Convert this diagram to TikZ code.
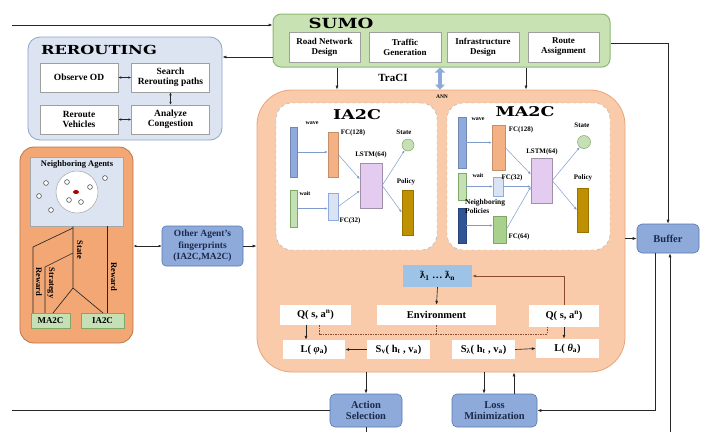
\documentclass[tikz,border=0pt]{standalone}
\usepackage{fontspec}
\setmainfont{Liberation Serif}
\newfontfamily\titlefont[FakeStretch=1.3]{DejaVu Serif}
\usetikzlibrary{calc,positioning,arrows.meta}

\definecolor{sumoF}{HTML}{C9E2B3}
\definecolor{sumoD}{HTML}{8DB872}
\definecolor{rrF}{HTML}{DCE4F2}
\definecolor{rrD}{HTML}{8FA3C8}
\definecolor{annF}{HTML}{F9CBAA}
\definecolor{annD}{HTML}{E8A47C}
\definecolor{nbrF}{HTML}{F3A774}
\definecolor{nbrD}{HTML}{B8764A}
\definecolor{blkF}{HTML}{8EAADB}
\definecolor{blkD}{HTML}{5A78B0}
\definecolor{navy}{HTML}{1C2A4A}
\definecolor{waveC}{HTML}{8FAADC}
\definecolor{fcO}{HTML}{F4B183}
\definecolor{waitC}{HTML}{C5E0B4}
\definecolor{fcB}{HTML}{DAE3F3}
\definecolor{lstmC}{HTML}{E4CCF0}
\definecolor{polC}{HTML}{BF9000}
\definecolor{npC}{HTML}{2F5597}
\definecolor{fcG}{HTML}{A9D18E}
\definecolor{lamC}{HTML}{9DC3E6}
\definecolor{nnA}{HTML}{7F9CCC}
\definecolor{brn}{HTML}{8B4A2B}
\definecolor{grnD}{HTML}{7FA866}

\begin{document}
\begin{tikzpicture}[x=1bp, y=-1bp, font=\bfseries,
  arr/.style={-{Latex[length=4bp,width=3bp]}, line width=.65bp, draw=black!85},
  darr/.style={{Latex[length=3bp,width=2.6bp]}-{Latex[length=3bp,width=2.6bp]}, line width=.65bp, draw=black!85},
  nnarr/.style={-{Latex[length=3bp,width=2.4bp]}, line width=.5bp, draw=nnA},
  nline/.style={line width=.65bp, draw=black!85},
  ttl/.style={inner sep=0, font=\titlefont\bfseries\fontsize{13.5}{14}\selectfont},
  wbox/.style={fill=white, draw=gray!75, line width=.5bp, inner sep=1bp, align=center, font=\fontsize{9}{10}\selectfont\bfseries},
  ebox/.style={fill=white, inner sep=1bp, font=\fontsize{10.5}{12}\selectfont\bfseries},
  bbox/.style={fill=blkF, draw=blkD, line width=.6bp, rounded corners=5bp, align=center, text=navy, font=\fontsize{10.5}{11.5}\selectfont\bfseries},
  gbox/.style={fill=waitC, draw=grnD, line width=.5bp, inner sep=0, font=\fontsize{9}{10}\selectfont\bfseries},
  bar/.style={inner sep=0, line width=.4bp},
  lbl/.style={inner sep=0, font=\fontsize{7}{8}\selectfont\bfseries},
  tlbl/.style={inner sep=0, font=\fontsize{6}{7}\selectfont\bfseries},
  rlbl/.style={inner sep=0, rotate=-90, font=\fontsize{8.5}{9}\selectfont\bfseries},
  dashline/.style={draw=brn, line width=.5bp, dash pattern=on 1.5bp off 1bp}]
\useasboundingbox (0,0) rectangle (706,432);

% SUMO
\node[draw=sumoD, fill=sumoF, rounded corners=8bp, line width=1bp, minimum width=337bp, minimum height=53bp] (sumo) at (441.5,40.5) {};
\node[ttl, font=\titlefont\bfseries\fontsize{14}{14}\selectfont] (sumot) at (341,23) {SUMO};
\node[wbox, minimum width=71bp, minimum height=30bp] (rnd) at (324.5,47) {Road Network\\Design};
\node[wbox, minimum width=72bp, minimum height=30bp] (tg) at (405,47) {Traffic\\Generation};
\node[wbox, minimum width=72bp, minimum height=30bp] (inf) at (483,47) {Infrastructure\\Design};
\node[wbox, minimum width=71bp, minimum height=30bp] (ra) at (563.5,47) {Route\\Assignment};

% REROUTING
\node[draw=rrD, fill=rrF, rounded corners=12bp, line width=.8bp, minimum width=194bp, minimum height=103bp] (reroute) at (125,88.5) {};
\node[ttl, font=\titlefont\bfseries\fontsize{12.5}{13}\selectfont] (reroutet) at (99,50) {REROUTING};
\node[wbox, font=\fontsize{9.5}{10.5}\selectfont\bfseries, minimum width=78bp, minimum height=29bp] (ood) at (79,77.5) {Observe OD};
\node[wbox, font=\fontsize{9.5}{10.5}\selectfont\bfseries, minimum width=78bp, minimum height=29bp] (srp) at (170.5,77.5) {Search\\Rerouting paths};
\node[wbox, font=\fontsize{9.5}{10.5}\selectfont\bfseries, minimum width=78bp, minimum height=29bp] (rv) at (79,119.5) {Reroute\\Vehicles};
\node[wbox, font=\fontsize{9.5}{10.5}\selectfont\bfseries, minimum width=78bp, minimum height=29bp] (ac) at (170.5,119.5) {Analyze\\Congestion};
\draw[darr] (ood.east) -- (srp.west);
\draw[darr] (rv.east) -- (ac.west);
\draw[darr] (srp.south) -- (ac.north);

% ANN
\node[draw=annD, fill=annF, rounded corners=35bp, line width=.8bp, minimum width=368bp, minimum height=282bp] (ann) at (441,231) {};
\node[inner sep=0, font=\fontsize{5.5}{6}\selectfont\bfseries] (annt) at (442,97) {ANN};
\node[draw=gray!70, dashed, fill=white, rounded corners=16bp, minimum width=161bp, minimum height=147bp] (ia2c) at (356.5,176.5) {};
\node[draw=gray!70, dashed, fill=white, rounded corners=16bp, minimum width=163bp, minimum height=147bp] (ma2c) at (528.5,176.5) {};
\node[ttl] (ia2ct) at (357,115) {IA2C};
\node[ttl] (ma2ct) at (525,112) {MA2C};

% IA2C network
\node[bar, fill=waveC, draw=waveC!80!black, minimum width=7bp, minimum height=50bp] (iwave) at (294,152) {};
\node[bar, fill=fcO, draw=fcO!80!black, minimum width=10bp, minimum height=45bp] (ifc1) at (333,154.5) {};
\node[bar, fill=waitC, draw=grnD, minimum width=7bp, minimum height=37bp] (iwait) at (294,208.5) {};
\node[bar, fill=fcB, draw=waveC, minimum width=10bp, minimum height=27bp] (ifc2) at (333,206.5) {};
\node[bar, fill=lstmC, draw=lstmC!70!black, minimum width=22bp, minimum height=45bp] (ilstm) at (371,185.5) {};
\node[circle, fill=waitC, draw=grnD, line width=.5bp, minimum size=12bp, inner sep=0] (istate) at (408,145) {};
\node[bar, fill=polC, draw=polC!80!black, minimum width=11bp, minimum height=45bp] (ipol) at (407.5,212.5) {};
\node[tlbl] at (312,123) {wave};
\node[lbl] at (353,133) {FC(128)};
\node[tlbl] at (305,193) {wait};
\node[lbl] at (350,221) {FC(32)};
\node[lbl] at (371,155) {LSTM(64)};
\node[lbl] at (404,132) {State};
\node[lbl] at (406,182) {Policy};
\draw[nnarr] (iwave) -- (iwave -| ifc1.west);
\draw[nnarr] (iwait) -- (iwait -| ifc2.west);
\draw[nnarr] (ifc1.east) -- (ilstm.150);
\draw[nnarr] (ifc2.east) -- (ilstm.205);
\draw[nnarr] (ilstm.east) -- (istate);
\draw[nnarr] (ilstm.east) -- (ipol.west);

% MA2C network
\node[bar, fill=waveC, draw=waveC!80!black, minimum width=8bp, minimum height=51bp] (mwave) at (462,142.5) {};
\node[bar, fill=fcO, draw=fcO!80!black, minimum width=13bp, minimum height=45bp] (mfc1) at (498.5,147.5) {};
\node[bar, fill=waitC, draw=grnD, minimum width=8bp, minimum height=27bp] (mwait) at (462,186.5) {};
\node[bar, fill=fcB, draw=waveC, minimum width=10bp, minimum height=19bp] (mfc2) at (498,186.5) {};
\node[bar, fill=npC, draw=npC!80!black, minimum width=8bp, minimum height=35bp] (mnp) at (462,225.5) {};
\node[bar, fill=fcG, draw=grnD, minimum width=13bp, minimum height=27bp] (mfc3) at (499.5,229.5) {};
\node[bar, fill=lstmC, draw=lstmC!70!black, minimum width=21bp, minimum height=45bp] (mlstm) at (541.5,180.5) {};
\node[circle, fill=waitC, draw=grnD, line width=.5bp, minimum size=13bp, inner sep=0] (mstate) at (584,142) {};
\node[bar, fill=polC, draw=polC!80!black, minimum width=11bp, minimum height=44bp] (mpol) at (582.5,210) {};
\node[tlbl] at (478,119) {wave};
\node[lbl] at (521,130) {FC(128)};
\node[tlbl] at (478,175) {wait};
\node[lbl] at (512,178) {FC(32)};
\node[lbl, anchor=west, align=left, font=\fontsize{7.5}{9}\selectfont\bfseries] at (465,206) {Neighboring\\Policies};
\node[lbl] at (519,237) {FC(64)};
\node[lbl] at (542,152) {LSTM(64)};
\node[lbl] at (582,125) {State};
\node[lbl] at (583,178) {Policy};
\draw[nnarr] (mwave) -- (mwave -| mfc1.west);
\draw[nnarr] (mwait) -- (mwait -| mfc2.west);
\draw[nnarr] (mnp) -- (mnp -| mfc3.west);
\draw[nnarr] (mfc2.east) -- (mfc2 -| mlstm.west);
\draw[nnarr] (mfc1.east) -- (mlstm.150);
\draw[nnarr] (mfc3.east) -- (mlstm.210);
\draw[nnarr] (mlstm.east) -- (mstate);
\draw[nnarr] (mlstm.east) -- (mpol.west);

% losses inside ANN
\node[fill=lamC, inner sep=0, minimum width=69bp, minimum height=22bp, font=\fontsize{10.5}{12}\selectfont\bfseries] (lam) at (437.5,276) {ƛ\textsubscript{1} … ƛ\textsubscript{n}};
\node[ebox, minimum width=119bp, minimum height=20bp] (env) at (436.5,315) {Environment};
\node[ebox, minimum width=71bp, minimum height=20bp] (ql) at (315.5,315) {Q( s, a\textsuperscript{n})};
\node[ebox, minimum width=70bp, minimum height=22bp] (qr) at (564,316) {Q( s, a\textsuperscript{n})};
\node[ebox, minimum width=62bp, minimum height=19bp] (lphi) at (314,349.5) {L( \textit{φ}\textsubscript{a})};
\node[ebox, minimum width=63bp, minimum height=19bp] (sv) at (398.5,349.5) {S\textsubscript{v}( h\textsubscript{t} , v\textsubscript{a})};
\node[ebox, minimum width=63bp, minimum height=19bp] (sl) at (483.5,349.5) {S\textsubscript{λ}( h\textsubscript{t} , v\textsubscript{a})};
\node[ebox, minimum width=63bp, minimum height=19bp] (lth) at (567.5,348.5) {L( \textit{θ}\textsubscript{a})};
\coordinate (qa) at (306,0);
\coordinate (dq) at (319,0);
\coordinate (dr) at (547,0);
\coordinate (dy) at (0,334);
\draw[dashline] (dq |- ql.south) -- (dq |- dy) -| (dr |- qr.south);
\draw[dashline] (env.south) -- (env.south |- dy);
\draw[arr] (lam.south) -- (env.north);
\draw[arr] (qa |- ql.south) -- (qa |- lphi.north);
\draw[arr] (sv.west) -- (lphi.east);
\draw[arr] (sl.east) -- (lth.west);
\draw[arr] (qr.south) -- (qr.south |- lth.north);
\draw[arr, draw=brn] (qr.north) |- (lam.east);

% neighboring agents
\node[draw=nbrD, fill=nbrF, rounded corners=14bp, line width=.8bp, minimum width=113bp, minimum height=196bp] (nbr) at (76.5,245) {};
\node[fill=rrF, draw=gray!70, line width=.5bp, minimum width=93bp, minimum height=69bp] (nbrin) at (76.5,191.5) {};
\node[inner sep=0, font=\fontsize{8.5}{9}\selectfont\bfseries] (nbrt) at (77,164) {Neighboring Agents};
\node[circle, draw=gray!70, fill=white, line width=.5bp, minimum size=42bp, inner sep=0] (nbhd) at (77,192) {};
\fill[red!70!black] (76,192) ellipse (3bp and 2bp);
\foreach \px/\py in {67/182, 90/187, 69/200, 81/202, 46/183, 39/196, 105/178, 51/210}
  \draw[line width=.5bp, draw=black!80, fill=white] (\px,\py) circle (2.4bp);
\node[gbox, minimum width=39bp, minimum height=15bp] (ma2cs) at (50.5,320.5) {MA2C};
\node[gbox, minimum width=43bp, minimum height=15bp] (ia2cs) at (102.5,320.5) {IA2C};
\coordinate (sp) at (73,288);
\coordinate (mj) at (53,313);
\coordinate (ij) at (103,313);
\coordinate (rw0) at (73,228);
\coordinate (rw1) at (33,247);
\coordinate (st0) at (73,253);
\coordinate (st1) at (45,267);
\coordinate (rwr) at (107,226);
\draw[nline] (sp |- nbrin.south) -- (sp) -- (mj);
\draw[nline] (sp) -- (ij);
\draw[nline] (rw0) -- (rw1) -- (rw1 |- ma2cs.north);
\draw[nline] (st0) -- (st1) -- (st1 |- ma2cs.north);
\draw[nline] (rwr) -- (rwr |- ia2cs.north);
\node[rlbl] at (39,282) {Reward};
\node[rlbl] at (51,283) {Strategy};
\node[rlbl] at (80,250) {State};
\node[rlbl] at (114,277) {Reward};

% fingerprints
\node[bbox, rounded corners=4bp, minimum width=81bp, minimum height=40bp, inner sep=0, font=\fontsize{9.5}{11.5}\selectfont\bfseries] (fp) at (202.5,246) {Other Agent's\\fingerprints\\(IA2C,MA2C)};
\draw[darr] (nbr.east |- fp) -- (fp.west);
\draw[arr] (fp.east) -- (fp -| ann.west);

% action, loss, buffer
\node[bbox, minimum width=62bp, minimum height=29bp] (buffer) at (668,238.5) {Buffer};
\node[bbox, minimum width=72bp, minimum height=33bp] (action) at (366,410.5) {Action\\Selection};
\node[bbox, minimum width=85bp, minimum height=33bp] (loss) at (494.5,410.5) {Loss\\Minimization};

% outer flow
\coordinate (topL) at (12,25);
\coordinate (rrL) at (0,57);
\coordinate (bufL) at (0,43);
\coordinate (dn1) at (337,0);
\coordinate (dn2) at (526,0);
\coordinate (trc) at (440,0);
\coordinate (bufo) at (655,0);
\coordinate (bufi) at (670,432);
\coordinate (actB) at (0,432);
\coordinate (botL) at (12,410);
\coordinate (ld) at (484,0);
\coordinate (lu) at (514,0);
\draw[arr] (topL) -- (topL -| sumo.west);
\draw[arr] (sumo.west |- rrL) -- (reroute.east |- rrL);
\draw[arr] (dn1 |- sumo.south) -- (dn1 |- ann.north);
\draw[arr] (dn2 |- sumo.south) -- (dn2 |- ann.north);
\draw[line width=4bp, draw=blkF, {Triangle[width=10bp,length=5bp]}-{Triangle[width=10bp,length=5bp]}] (trc |- sumo.south) -- (trc |- ann.north);
\node[inner sep=0, font=\fontsize{11}{12}\selectfont\bfseries] (traci) at (393,78) {TraCI};
\draw[arr] (sumo.east |- bufL) -| (buffer.north);
\draw[arr] (ann.east |- buffer) -- (buffer.west);
\draw[arr] (bufo |- buffer.south) |- (loss.east);
\draw[arr] (bufi) -- (bufi |- buffer.south);
\draw[arr] (ann.south -| action) -- (action.north);
\draw[nline] (action.south) -- (action.south |- actB);
\draw[nline] (botL) -- (botL -| action.west);
\draw[arr] (ld |- ann.south) -- (ld |- loss.north);
\draw[arr] (lu |- loss.north) -- (lu |- ann.south);
\end{tikzpicture}
\end{document}
